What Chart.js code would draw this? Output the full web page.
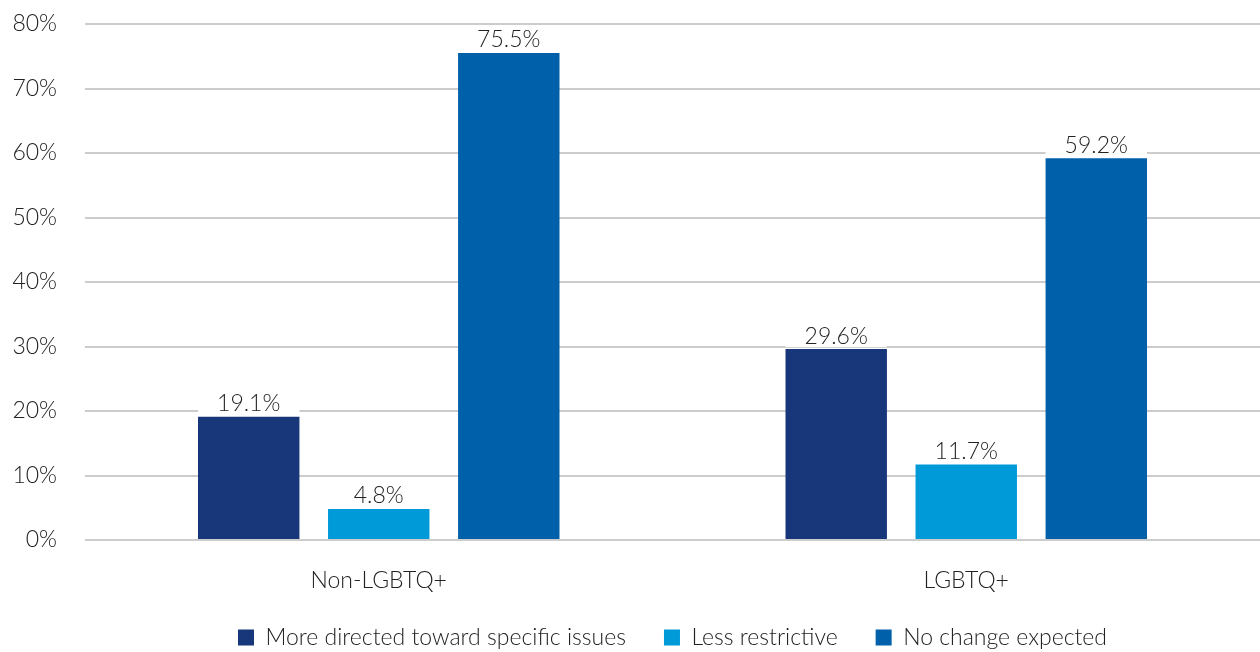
<!DOCTYPE html>
<html>
<head>
<meta charset="utf-8">
<script src="https://cdn.jsdelivr.net/npm/chart.js@4"></script>
<style>
  html, body { margin: 0; padding: 0; background: #fff; }
  #wrap { width: 1260px; height: 652px; }
</style>
</head>
<body>
<div id="wrap"><canvas id="barChart"></canvas></div>
<script>
const categories = ["Non-LGBTQ+", "LGBTQ+"];
const seriesNames = ["More directed toward specific issues", "Less restrictive", "No change expected"];
const moreDirected = [19.1, 29.6];
const lessRestrictive = [4.8, 11.7];
const noChange = [75.5, 59.2];
const yTicks = [0, 10, 20, 30, 40, 50, 60, 70, 80];

const colors = ["#17377a", "#009ad9", "#0060aa"];
const fontFamily = "Lato, 'Open Sans', sans-serif";
const baseFont = { family: fontFamily, size: 23, weight: 300 };

// draws the value labels on a white box above each bar
const valueLabels = {
  id: "valueLabels",
  afterDatasetsDraw(chart) {
    const ctx = chart.ctx;
    ctx.save();
    ctx.font = "300 23px " + fontFamily;
    ctx.textAlign = "center";
    ctx.textBaseline = "middle";
    chart.data.datasets.forEach((ds, i) => {
      chart.getDatasetMeta(i).data.forEach((bar, j) => {
        const w = bar.width;
        ctx.fillStyle = "#fff";
        ctx.fillRect(bar.x - w / 2, bar.y - 28, w, 26);
        ctx.fillStyle = "#222";
        ctx.fillText(ds.data[j].toFixed(1) + "%", bar.x, bar.y - 13);
      });
    });
    ctx.restore();
  },
};

// fixed legend height, legend centred under the plot area
const legendPlace = {
  id: "legendPlace",
  beforeInit(chart) {
    const fit = chart.legend.fit;
    chart.legend.fit = function () {
      fit.call(this);
      this.height = 58;
    };
  },
  beforeDraw(chart) {
    const lg = chart.legend;
    const area = chart.chartArea;
    const dx = (area.left + area.right) / 2 - (lg.left + lg.right) / 2;
    lg.left += dx;
    lg.right += dx;
    lg.top -= 6;
  },
};

const ctx = document.getElementById("barChart").getContext("2d");
const chart = new Chart(ctx, {
  type: "bar",
  data: {
    labels: categories,
    datasets: [moreDirected, lessRestrictive, noChange].map((d, i) => ({
      label: seriesNames[i],
      data: d,
      backgroundColor: colors[i],
      borderWidth: 0,
      categoryPercentage: 0.664,
      barPercentage: 0.78,
    })),
  },
  options: {
    responsive: true,
    maintainAspectRatio: false,
    animation: false,
    layout: { padding: { top: 0, left: 10, right: 0, bottom: 0 } },
    scales: {
      x: {
        grid: { display: false },
        border: { display: false },
        ticks: { color: "#222", font: baseFont, padding: 19 },
        afterFit(scale) {
          scale.height = 54;
        },
      },
      y: {
        min: 0,
        max: 80,
        afterBuildTicks(axis) {
          axis.ticks = yTicks.map((v) => ({ value: v }));
        },
        grid: { color: "#cccccc", lineWidth: 2, drawTicks: false },
        border: { display: false },
        ticks: {
          color: "#222",
          font: baseFont,
          padding: 28,
          callback: (v) => v + "%",
        },
        afterFit(scale) {
          scale.width = 75;
          scale.paddingTop = 24;
          scale.paddingBottom = 0;
        },
      },
    },
    plugins: {
      legend: {
        position: "bottom",
        labels: {
          color: "#222",
          font: baseFont,
          boxWidth: 16,
          boxHeight: 16,
          padding: 38,
        },
      },
      tooltip: { enabled: false },
    },
  },
  plugins: [valueLabels, legendPlace],
});
</script>
</body>
</html>
